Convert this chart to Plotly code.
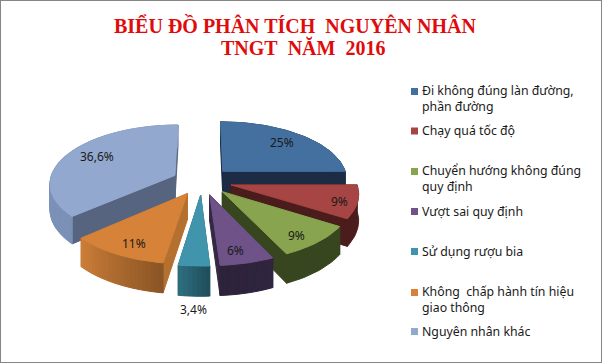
import math
import plotly.graph_objects as go

# ---- data ----
categories = [
    "Đi không đúng làn đường, phần đường",
    "Chạy quá tốc độ",
    "Chuyển hướng không đúng quy định",
    "Vượt sai quy định",
    "Sử dụng rượu bia",
    "Không  chấp hành tín hiệu giao thông",
    "Nguyên nhân khác",
]
values = [25, 9, 9, 6, 3.4, 11, 36.6]
value_labels = ["25%", "9%", "9%", "6%", "3,4%", "11%", "36,6%"]

# ---- styling ----
top_colors = ["#44709F", "#A64543", "#88A44E", "#6E5288", "#4095AD", "#D68238", "#92A8CF"]
radial_colors = ["#1B2C44", "#4A1C1C", "#384620", "#352842", "#265866", "#B4702F", "#566480"]
# outer wall colour at the start / end of each slice's sweep
wall_start = ["#1B2C44", "#4A1C1C", "#384620", "#30253F", "#1F4C58", "#8A5525", "#7A90B6"]
wall_end = ["#1B2C44", "#4A1C1C", "#384620", "#2C2239", "#2E6E80", "#CC7E38", "#8298BE"]
draw_order = [6, 0, 1, 2, 5, 3, 4]
label_radius = [0.62, 0.80, 0.62, 0.60, 1.30, 0.62, 0.70]
label_shift = [(9, -6), (8, 3), (17, 14), (4, 17), (2, 18), (-11, 14), (-3, -3)]

CX, CY, R, RK, DEPTH, PERSP, EXPLODE = 202, 181, 125, 58, 25.5, 0.125, 0.24


def project(X, Y, z=0.0):
    f = 1 / (1 + PERSP * Y)
    return CX + R * X * f, CY - RK * Y * f + DEPTH * f * z


def hex_mix(a, b, t):
    ca = [int(a[i:i + 2], 16) for i in (1, 3, 5)]
    cb = [int(b[i:i + 2], 16) for i in (1, 3, 5)]
    return "#%02x%02x%02x" % tuple(round(p + (q - p) * t) for p, q in zip(ca, cb))


def poly(points, color):
    xs = [p[0] for p in points] + [points[0][0]]
    ys = [p[1] for p in points] + [points[0][1]]
    return go.Scatter(x=xs, y=ys, mode="lines", fill="toself", fillcolor=color,
                      line=dict(color=color, width=1), hoverinfo="skip", showlegend=False)


total = sum(values)
bounds = [0.0]
for v in values:
    bounds.append(bounds[-1] + v / total * 2 * math.pi)

fig = go.Figure()
for i in draw_order:
    a0, a1 = bounds[i], bounds[i + 1]
    mid = (a0 + a1) / 2
    ox, oy = EXPLODE * math.sin(mid), EXPLODE * math.cos(mid)
    n = max(3, int((a1 - a0) / 0.03))
    angles = [a0 + (a1 - a0) * k / n for k in range(n + 1)]
    rim = [(ox + math.sin(t), oy + math.cos(t)) for t in angles]
    for edge in (rim[0], rim[-1]):
        fig.add_trace(poly([project(ox, oy), project(*edge), project(*edge, 1), project(ox, oy, 1)],
                           radial_colors[i]))
    if wall_start[i] == wall_end[i]:
        fig.add_trace(poly([project(*p) for p in rim] + [project(*p, 1) for p in reversed(rim)],
                           wall_start[i]))
    else:
        for k in range(n):
            c = hex_mix(wall_start[i], wall_end[i], (k + 0.5) / n)
            fig.add_trace(poly([project(*rim[k]), project(*rim[k + 1]),
                                project(*rim[k + 1], 1), project(*rim[k], 1)], c))
    fig.add_trace(poly([project(ox, oy)] + [project(*p) for p in rim], top_colors[i]))

annotations = []
for i, lab in enumerate(value_labels):
    mid = (bounds[i] + bounds[i + 1]) / 2
    ox, oy = EXPLODE * math.sin(mid), EXPLODE * math.cos(mid)
    lx, ly = project(ox + label_radius[i] * math.sin(mid), oy + label_radius[i] * math.cos(mid))
    annotations.append(dict(x=lx, y=ly, text=lab, showarrow=False, xref="x", yref="y",
                            xshift=label_shift[i][0], yshift=-label_shift[i][1],
                            font=dict(family="Noto Sans", size=12, color="#1a1a1a")))

# title
title_lines = [("BIỂU ĐỒ PHÂN TÍCH  NGUYÊN NHÂN", 294.5, 25), ("TNGT  NĂM  2016", 303, 47)]
for text, x, y in title_lines:
    annotations.append(dict(x=x, y=y, text="<b>" + text.replace("  ", "\u00a0\u00a0") + "</b>", showarrow=False,
                            font=dict(family="Liberation Serif", size=20, color="#E00B0B")))

# legend
legend_x, swatch = 419.5, 7
legend_lines = [
    ["Đi không đúng làn đường,", "phần đường"],
    ["Chạy quá tốc độ"],
    ["Chuyển hướng không đúng", "quy định"],
    ["Vượt sai quy định"],
    ["Sử dụng rượu bia"],
    ["Không  chấp hành tín hiệu", "giao thông"],
    ["Nguyên nhân khác"],
]
legend_y = [91, 130.5, 171, 211, 251, 292, 331]
shapes = []
for i, lines in enumerate(legend_lines):
    y0 = legend_y[i]
    shapes.append(dict(type="rect", xref="x", yref="y", x0=411, x1=411 + swatch, y0=y0 - 3, y1=y0 + swatch - 3,
                       fillcolor=top_colors[i], line_width=0, layer="above"))
    annotations.append(dict(x=legend_x, y=y0 + 7.5 * (len(lines) - 1),
                            text="<br>".join(line.replace("  ", "\u00a0\u00a0") for line in lines),
                            showarrow=False, xanchor="left", align="left",
                            font=dict(family="Noto Sans", size=12.3, color="#1a1a1a")))
# picture frame
shapes.append(dict(type="rect", xref="paper", yref="paper", x0=0, x1=1, y0=0, y1=1,
                   line=dict(color="#868686", width=2), layer="above"))

fig.update_layout(
    width=602, height=363, margin=dict(l=0, r=0, t=0, b=0),
    paper_bgcolor="white", plot_bgcolor="white", showlegend=False,
    xaxis=dict(range=[0, 602], visible=False, fixedrange=True),
    yaxis=dict(range=[363, 0], visible=False, fixedrange=True),
    annotations=annotations, shapes=shapes,
)
fig.write_html("out.html", config={"displayModeBar": False},
               post_script="document.body.style.margin='0';document.documentElement.style.overflow='hidden';")
